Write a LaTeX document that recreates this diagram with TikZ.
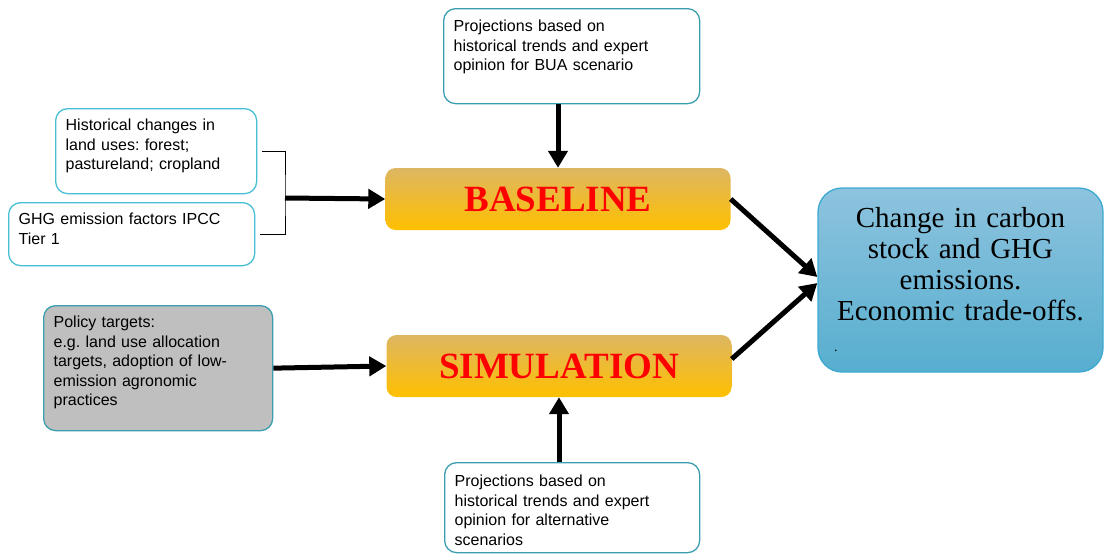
\documentclass[tikz,border=0pt]{standalone}
\usepackage{fontspec}
\setmainfont{Liberation Sans}
\newfontfamily\titleserif{Liberation Serif}
\usetikzlibrary{arrows.meta}
\frenchspacing

\definecolor{cyanline}{HTML}{46BFD2}
\definecolor{tealline}{HTML}{3A9EAE}
\definecolor{policygray}{HTML}{BFBFBF}
\definecolor{goldtop}{HTML}{DDB662}
\definecolor{gold}{HTML}{FFC000}
\definecolor{bluetop}{HTML}{8DC3DE}
\definecolor{bluebottom}{HTML}{57AECF}
\definecolor{blueline}{HTML}{3CAAD0}

\tikzset{
    infobox/.style={draw=cyanline, line width=1.3pt, rounded corners=12pt,
        anchor=north west, align=left, inner xsep=10pt, inner ysep=0pt,
        text height=22pt, font=\fontsize{16}{19.5}\selectfont},
    scenario/.style={rounded corners=10pt, minimum width=345pt, minimum height=62pt,
        top color=goldtop, middle color=gold, bottom color=gold,
        text=red, font=\titleserif\bfseries\fontsize{37}{40}\selectfont},
    bigarrow/.style={line width=5pt, -{Triangle[length=17pt,width=19pt]}}
}

\begin{document}
\begin{tikzpicture}[x=1pt,y=-1pt]
    \useasboundingbox (0,0) rectangle (1104,558);
    % input boxes
    \node [infobox, draw=tealline, text width=236pt, text height=23pt, text depth=72pt] (bua) at (443,8)
        {Projections based on\\historical trends and expert\\opinion for BUA scenario};
    \node [infobox, text width=181pt, text depth=63pt] (hist) at (55,108)
        {Historical changes in\\land uses: forest;\\pastureland; cropland};
    \node [infobox, text width=226pt, text depth=41pt] (ghg) at (8,202)
        {GHG emission factors IPCC\\Tier 1};
    \node [infobox, draw=tealline, fill=policygray, text width=209pt, text depth=103pt] (policy) at (43,305)
        {Policy targets:\\e.g. land use allocation\\targets, adoption of low-\\emission agronomic\\practices};
    \node [infobox, draw=tealline, text width=235pt, text height=24pt, text depth=66pt] (alt) at (444,462)
        {Projections based on\\historical trends and expert\\opinion for alternative\\scenarios};
    % scenarios
    \node [scenario] (baseline) at (558,199) {BASELINE};
    \node [scenario] (simulation) at (559,366) {SIMULATION};
    % result
    \node [draw=blueline, line width=1.3pt, rounded corners=24pt, top color=bluetop, bottom color=bluebottom,
        minimum width=285pt, minimum height=184pt, text width=253pt, align=center, inner sep=0pt,
        font=\titleserif\fontsize{29}{31}\selectfont] (result) at (960.5,280)
        {Change in carbon\\stock and GHG\\emissions.\\Economic trade-offs.\\\makebox[\hsize][l]{\fontsize{14}{14}\selectfont.}};
    % connectors
    \coordinate (join) at (285,198);
    \draw [line width=1pt] ([xshift=5pt]hist.east) -| (join) |- ([xshift=5pt]ghg.east);
    \draw [bigarrow] (join) -- (baseline.west);
    \draw [bigarrow] (policy.east) -- (simulation.west);
    \draw [bigarrow] (baseline.north |- bua.south) -- (baseline.north);
    \draw [bigarrow] (simulation.south |- alt.north) -- (simulation.south);
    \draw [bigarrow] (baseline.east) -- ([yshift=3pt]result.west);
    \draw [bigarrow] ([yshift=7pt]simulation.east) -- ([yshift=-3pt]result.west);
\end{tikzpicture}
\end{document}
